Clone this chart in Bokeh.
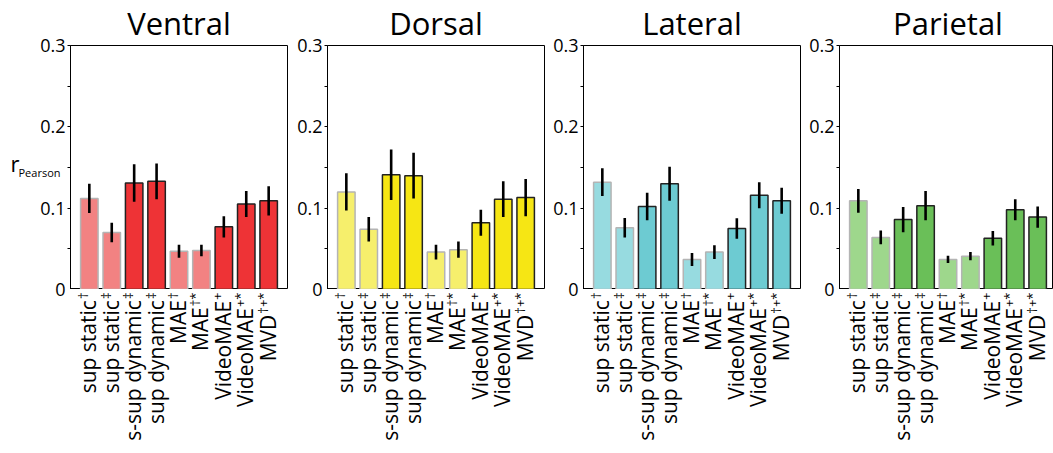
import numpy as np
from bokeh.plotting import figure
from bokeh.layouts import row, column
from bokeh.models import Range1d, FixedTicker, ColumnDataSource
from bokeh.core.properties import value
from bokeh.embed import file_html
from bokeh.resources import INLINE

regions = ["Ventral", "Dorsal", "Lateral", "Parietal"]
models = ["sup static", "sup static", "s-sup dynamic", "sup dynamic", "MAE", "MAE",
          "VideoMAE", "VideoMAE", "MVD"]
marks = ["\u2020", "\u2021", "\u2021", "\u2021", "\u2020", "\u2020*", "+", "+*", "\u2020+*"]
is_light = [True, True, False, False, True, True, False, False, False]

ventral_r = [0.112, 0.070, 0.131, 0.133, 0.047, 0.048, 0.077, 0.105, 0.109]
ventral_err = [0.018, 0.012, 0.023, 0.022, 0.008, 0.007, 0.013, 0.016, 0.018]
dorsal_r = [0.120, 0.074, 0.141, 0.140, 0.046, 0.049, 0.082, 0.111, 0.113]
dorsal_err = [0.023, 0.015, 0.031, 0.028, 0.009, 0.010, 0.016, 0.022, 0.023]
lateral_r = [0.132, 0.076, 0.102, 0.130, 0.037, 0.046, 0.075, 0.116, 0.109]
lateral_err = [0.017, 0.012, 0.017, 0.021, 0.008, 0.0085, 0.0125, 0.016, 0.016]
parietal_r = [0.109, 0.064, 0.086, 0.103, 0.037, 0.041, 0.063, 0.098, 0.089]
parietal_err = [0.0145, 0.0085, 0.0155, 0.018, 0.0045, 0.005, 0.009, 0.013, 0.013]

values = [ventral_r, dorsal_r, lateral_r, parietal_r]
errors = [ventral_err, dorsal_err, lateral_err, parietal_err]
light_colors = ["#F28282", "#F6EF6C", "#97DBE0", "#9ED78C"]
dark_colors = ["#EE3336", "#F6E614", "#6DCBD2", "#6ABF58"]

y_ticks = [0, 0.1, 0.2, 0.3]
y_labels = ["0", "0.1", "0.2", "0.3"]
y_minor = [0.05, 0.15, 0.25]
y_title = "r"
y_title_sub = "Pearson"

FONT = value("Open Sans")
FH = 244                      # frame height of bar plots
HEAD = 45                     # title strip height
FOOT = 164                    # tick-label strip height
X0, X1 = -0.84, 8.84
UX = 217 / (X1 - X0)          # pixels per x unit
UY = 0.3 / FH                 # y units per pixel

strip_w = [66, 28, 28, 28]    # width of the y-label strip left of each panel
TICKB = 4                     # left border of bar plots (tick marks)
rights = [8, 7, 7, 0]
fws = [217, 217, 217, 214]

SUP_SIZE = 13
MAIN_SIZE = 21
char_w = {"\u2020": 0.51, "\u2021": 0.51, "+": 0.57, "*": 0.55}


def bare(p):
    p.xgrid.visible = False
    p.ygrid.visible = False
    p.outline_line_color = None
    p.background_fill_color = "white"
    p.border_fill_color = "white"


items = []
for k, name in enumerate(regions):
    # y tick-label strip, same y scale as the bar plot
    sw = strip_w[k]
    ylab = figure(width=sw, height=HEAD + FH + FOOT,
                  x_range=Range1d(0, sw),
                  y_range=Range1d(-FOOT * UY, 0.3 + HEAD * UY),
                  min_border=0, x_axis_location=None, y_axis_location=None,
                  output_backend="svg", toolbar_location=None, tools="")
    bare(ylab)
    ylab.text(x=[sw - 1] * len(y_ticks), y=y_ticks, text=y_labels,
              text_align="right", text_baseline="middle", text_font=FONT,
              text_font_size="18px", text_color="black")
    if k == 0:
        ylab.text(x=[10], y=[127 * UY], text=[y_title],
                  text_align="left", text_baseline="middle", text_font=FONT,
                  text_font_size="22px", text_color="black")
        ylab.text(x=[18], y=[117 * UY], text=[y_title_sub],
                  text_align="left", text_baseline="middle", text_font=FONT,
                  text_font_size="11px", text_color="black")
    items.append(ylab)

    fw = fws[k]
    W = TICKB + fw + rights[k]
    xr = Range1d(X0, X0 + fw / UX)

    # title strip
    head = figure(width=W, height=HEAD, x_range=xr, y_range=Range1d(0, HEAD),
                  min_border_left=TICKB, min_border_right=rights[k],
                  min_border_top=0, min_border_bottom=0,
                  x_axis_location=None, y_axis_location=None,
                  output_backend="svg", toolbar_location=None, tools="")
    bare(head)
    head.text(x=[(X0 + X1) / 2], y=[23], text=[name], text_align="center",
              text_baseline="middle", text_font=FONT,
              text_font_size="31px", text_color="black")

    # bar plot
    p = figure(width=W, height=FH, x_range=xr, y_range=Range1d(0, 0.3),
               min_border_left=TICKB, min_border_right=rights[k],
               min_border_top=0, min_border_bottom=0, x_axis_location=None,
               output_backend="svg", toolbar_location=None, tools="")
    p.xgrid.visible = False
    p.ygrid.visible = False
    p.outline_line_color = "black"
    p.outline_line_width = 1
    p.background_fill_color = "white"
    p.border_fill_color = "white"

    ya = p.yaxis[0]
    # tick marks only; the tick labels sit in the strip to the left
    ya.ticker = FixedTicker(ticks=[], minor_ticks=sorted(y_ticks + y_minor))
    ya.minor_tick_in = 0
    ya.minor_tick_out = 3
    ya.axis_line_color = "black"
    ya.minor_tick_line_color = "black"

    xs = list(range(len(models)))
    vals = values[k]
    errs = errors[k]
    fill = [light_colors[k] if l else dark_colors[k] for l in is_light]
    edge = ["#B4B4B4" if l else "#222222" for l in is_light]
    src = ColumnDataSource(dict(x=xs, top=vals, fill=fill, edge=edge,
                                lo=[v - e for v, e in zip(vals, errs)],
                                hi=[v + e for v, e in zip(vals, errs)]))
    p.vbar(x="x", top="top", bottom=0, width=0.78, source=src,
           fill_color="fill", line_color="edge", line_width=1.5)
    p.segment(x0="x", x1="x", y0="lo", y1="hi", source=src,
              line_color="black", line_width=2.6)

    # tick-label strip (y in pixels below the bar plot)
    foot = figure(width=W, height=FOOT, x_range=xr, y_range=Range1d(-FOOT, 0),
                  min_border_left=TICKB, min_border_right=rights[k],
                  min_border_top=0, min_border_bottom=0,
                  x_axis_location=None, y_axis_location=None,
                  output_backend="svg", toolbar_location=None, tools="")
    bare(foot)
    sup_len = [sum(char_w[c] for c in s) * SUP_SIZE for s in marks]
    foot.text(x=xs, y=[-3] * len(xs), text=marks, angle=np.pi / 2,
              text_align="right", text_baseline="middle", x_offset=-6,
              text_font=FONT, text_font_size=f"{SUP_SIZE}px", text_color="black")
    foot.text(x=xs, y=[-(4 + L) for L in sup_len], text=models, angle=np.pi / 2,
              text_align="right", text_baseline="middle", x_offset=-1,
              text_font=FONT, text_font_size=f"{MAIN_SIZE}px", text_color="black")

    items.append(column(head, p, foot, spacing=0))

layout = row(*items, spacing=0)
open("out.html", "w").write(file_html(layout, INLINE))
